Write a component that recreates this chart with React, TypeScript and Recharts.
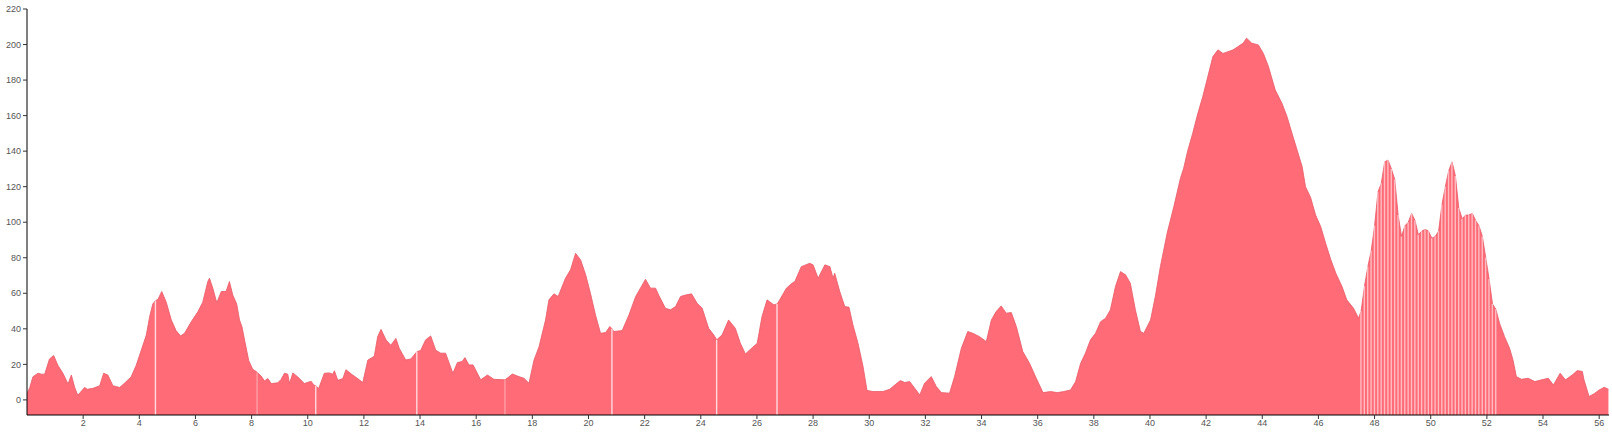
import React from "react";
import { ComposedChart, Area, Bar, Cell, XAxis, YAxis } from "recharts";

// Elevation profile (distance in km, elevation in m)
const profileKm = [
  0.0, 0.1, 0.21, 0.39, 0.51, 0.63, 0.8, 0.95, 1.1, 1.28, 1.46, 1.58, 1.7, 1.81, 2.05, 2.15, 2.35, 2.59, 2.73, 2.88,
  3.06, 3.3, 3.48, 3.71, 3.89, 4.07, 4.25, 4.37, 4.48, 4.58, 4.66, 4.8, 4.96, 5.14, 5.31, 5.47, 5.61, 5.85, 6.09, 6.26,
  6.44, 6.5, 6.62, 6.76, 6.92, 7.09, 7.21, 7.33, 7.47, 7.57, 7.66, 7.75, 7.9, 8.04, 8.2, 8.34, 8.46, 8.58, 8.7, 8.93,
  9.05, 9.17, 9.29, 9.35, 9.47, 9.64, 9.88, 10.12, 10.22, 10.29, 10.39, 10.59, 10.77, 10.89, 10.95, 11.07, 11.25, 11.36, 11.6, 11.78,
  11.96, 12.14, 12.37, 12.49, 12.61, 12.79, 12.96, 13.14, 13.26, 13.49, 13.67, 13.89, 14.02, 14.2, 14.38, 14.56, 14.74, 14.91, 15.17, 15.33,
  15.5, 15.6, 15.74, 15.89, 16.16, 16.4, 16.63, 17.03, 17.29, 17.52, 17.7, 17.88, 18.06, 18.24, 18.47, 18.59, 18.77, 18.92, 19.18, 19.36,
  19.54, 19.72, 19.9, 20.07, 20.25, 20.43, 20.61, 20.76, 20.84, 20.9, 21.2, 21.44, 21.68, 21.85, 22.03, 22.21, 22.39, 22.5, 22.74, 22.92,
  23.1, 23.28, 23.45, 23.67, 23.87, 24.05, 24.28, 24.46, 24.57, 24.76, 24.99, 25.23, 25.41, 25.59, 25.77, 26.01, 26.18, 26.36, 26.6, 26.72,
  26.81, 27.05, 27.25, 27.35, 27.58, 27.88, 28.0, 28.18, 28.42, 28.6, 28.71, 28.77, 28.95, 29.13, 29.28, 29.42, 29.6, 29.78, 29.92, 30.14,
  30.49, 30.73, 30.91, 31.11, 31.26, 31.44, 31.62, 31.8, 31.97, 32.21, 32.39, 32.57, 32.86, 33.04, 33.28, 33.51, 33.69, 33.93, 34.17, 34.35,
  34.52, 34.7, 34.88, 35.06, 35.24, 35.47, 35.71, 35.95, 36.19, 36.46, 36.7, 36.93, 37.17, 37.35, 37.53, 37.7, 37.88, 38.06, 38.24, 38.42,
  38.59, 38.77, 38.95, 39.13, 39.3, 39.48, 39.66, 39.78, 40.02, 40.19, 40.37, 40.61, 40.85, 41.08, 41.2, 41.34, 41.52, 41.7, 41.88, 42.06,
  42.24, 42.42, 42.6, 42.78, 42.96, 43.14, 43.32, 43.44, 43.62, 43.86, 44.04, 44.22, 44.46, 44.7, 44.88, 45.06, 45.24, 45.42, 45.54, 45.72,
  45.9, 46.08, 46.26, 46.44, 46.62, 46.84, 47.01, 47.25, 47.43,
  52.45, 52.63, 52.81, 52.93, 53.05, 53.23, 53.47, 53.71, 53.95, 54.19, 54.37, 54.61, 54.8, 55.04, 55.22, 55.4, 55.46, 55.64, 55.82, 56.0,
  56.18, 56.33,
];

const profileElev = [
  3.6, 7, 13, 15, 14.5, 14.5, 23, 25, 19.5, 15, 9, 14, 7, 2.6, 7, 6, 6.5, 8, 15, 14,
  8, 7, 9.5, 13, 19.5, 28, 36.5, 47, 54, 56, 56.5, 61, 55, 45, 39, 36, 37.5, 44, 49.7, 55,
  66.6, 68.5, 62.8, 54.7, 61, 61, 66.6, 59, 54, 45, 41, 33.7, 22, 17.3, 15.5, 13.4, 10.7, 12, 9.2, 9.6,
  11.5, 15, 14.5, 9.2, 15.2, 13, 9.2, 10.5, 8.3, 8, 6.4, 15, 15.2, 14.5, 16.4, 11, 12, 17, 14, 12,
  9.8, 22.4, 24.6, 35.6, 39.7, 33.7, 30.8, 34.6, 29, 22.5, 23, 27.2, 27.8, 33.8, 36, 28, 26.3, 26.3, 15, 21,
  21.6, 23.8, 19.7, 19.7, 11.3, 14, 11.6, 11.3, 14.6, 13.1, 12.2, 9.4, 22.5, 30, 45, 56.3, 59.7, 58.2, 68.5, 73.2,
  82.5, 78.8, 70.4, 60, 47.8, 37.5, 37.9, 41.3, 40, 38.5, 39, 47.8, 58.2, 62.9, 67.9, 62.9, 62.9, 59, 51.6, 50.7,
  52.5, 58.2, 59, 59.7, 54.4, 51.6, 40.3, 36.6, 33.8, 36.6, 45, 40.3, 31.9, 25.9, 28.5, 31.9, 46.9, 56.3, 53.5, 54,
  56.3, 62.9, 65.7, 66.6, 75, 76.9, 76, 68.5, 76, 75, 68.5, 71.3, 61, 52.5, 52.2, 42.2, 31.9, 18.8, 5.3, 4.7,
  4.7, 6, 8.4, 10.9, 9.8, 10.3, 6.6, 2.8, 9.4, 13.1, 7.5, 4.1, 3.8, 13.1, 29, 38.5, 37.5, 35.6, 32.8, 45,
  49.7, 52.9, 48.8, 49.2, 41.3, 27.2, 20.6, 12.2, 4.1, 4.7, 4.1, 4.7, 5.6, 10.3, 20.6, 26.3, 33.8, 37.5, 44, 46,
  50.7, 63.8, 72.2, 70.4, 65.7, 50.7, 38.5, 37.5, 45, 58.2, 75, 93.8, 108.8, 124.5, 130.4, 140, 150, 161, 170.7, 182,
  193.2, 197, 195, 196, 197, 198.9, 200.8, 203.6, 200.8, 199.8, 195, 187.6, 174.5, 167, 159.5, 150, 140.7, 131.3, 120, 114,
  104, 97.6, 88, 79, 71.3, 63.8, 56.3, 51.6, 46,
  43.2, 35.6, 29, 22.5, 13.1, 11.6, 12.2, 10.3, 11.3, 12.2, 8.4, 15, 11.3, 14, 16.5, 16, 11.3, 1.9, 3.5, 5.6,
  7.1, 6,
];

// Sparse-sample stretch where the columns show through as stripes
const stripeKm = [
  47.52, 47.64, 47.76, 47.88, 48.0, 48.12, 48.24, 48.36, 48.48, 48.6, 48.72, 48.84, 48.96, 49.08, 49.2, 49.32, 49.44, 49.56, 49.68, 49.8,
  49.92, 50.04, 50.16, 50.28, 50.4, 50.52, 50.64, 50.76, 50.88, 51.0, 51.12, 51.24, 51.36, 51.48, 51.6, 51.72, 51.84, 51.96, 52.08, 52.2,
  52.32,
];
const stripeElev = [
  50, 64, 75, 84, 98, 117, 122, 134, 135, 130, 124, 104, 92, 98, 100, 105, 101, 93, 95, 96,
  95, 91, 92, 95, 110, 120, 129, 134, 126, 108, 102, 104, 104, 105, 101, 98, 92, 80, 68, 54,
  51,
];

// Isolated sampling gaps (white hairlines)
const gapKm = [4.58, 8.2, 10.29, 13.89, 17.03, 20.84, 24.57, 26.72];
const faintGapKm = [8.2, 17.03];

const yTicks = [0, 20, 40, 60, 80, 100, 120, 140, 160, 180, 200, 220];
const xTicks = [2, 4, 6, 8, 10, 12, 14, 16, 18, 20, 22, 24, 26, 28, 30, 32, 34, 36, 38, 40, 42, 44, 46, 48, 50, 52, 54, 56];

const Y_MIN = -8.5;
const X_MAX = 56.35;

type Row = { d: number; e: number; kind: "none" | "gap" | "faint" | "stripe"; col: [number, number] | null };

const rows: Row[] = [];
profileKm.forEach((d, i) => {
  const e = profileElev[i];
  const isGap = gapKm.includes(d);
  const isFaint = faintGapKm.includes(d);
  rows.push({ d, e, kind: isGap ? (isFaint ? "faint" : "gap") : "none", col: isGap ? [Y_MIN, e] : null });
});
stripeKm.forEach((d, i) => {
  const e = stripeElev[i];
  rows.push({ d, e, kind: "stripe", col: [Y_MIN, e] });
});
rows.sort((a, b) => a.d - b.d);

const FILL = "#ff6b77";
const tickStyle = { fontSize: 9, fill: "#555", fontFamily: "'Liberation Sans', Arial, sans-serif" };

export default function App() {
  return (
    <div style={{ position: "absolute", left: 0, top: 0, width: 1612, height: 433, background: "#fff" }}>
      <ComposedChart width={1612} height={433} data={rows} margin={{ top: 9, right: 3, bottom: 0, left: 0 }}>
        <XAxis
          dataKey="d"
          type="number"
          domain={[0, X_MAX]}
          ticks={xTicks}
          interval={0}
          tick={tickStyle}
          tickSize={4}
          tickMargin={1}
          height={18}
          axisLine={{ stroke: "#000" }}
          tickLine={{ stroke: "#333" }}
          allowDataOverflow
        />
        <YAxis
          type="number"
          domain={[Y_MIN, 220]}
          ticks={yTicks}
          interval={0}
          tick={tickStyle}
          tickSize={4}
          tickMargin={2}
          width={27}
          axisLine={{ stroke: "#000" }}
          tickLine={{ stroke: "#333" }}
          allowDataOverflow
        />
        <Area
          dataKey="e"
          type="linear"
          baseValue="dataMin"
          fill={FILL}
          fillOpacity={1}
          stroke="#e65a67"
          strokeWidth={0.8}
          dot={false}
          activeDot={false}
          isAnimationActive={false}
        />
        <Bar dataKey="col" barSize={1.4} isAnimationActive={false}>
          {rows.map((r, i) => (
            <Cell
              key={i}
              fill="#ffffff"
              fillOpacity={r.kind === "stripe" ? 0.55 : r.kind === "faint" ? 0.35 : r.kind === "gap" ? 0.75 : 0}
            />
          ))}
        </Bar>
      </ComposedChart>
    </div>
  );
}
